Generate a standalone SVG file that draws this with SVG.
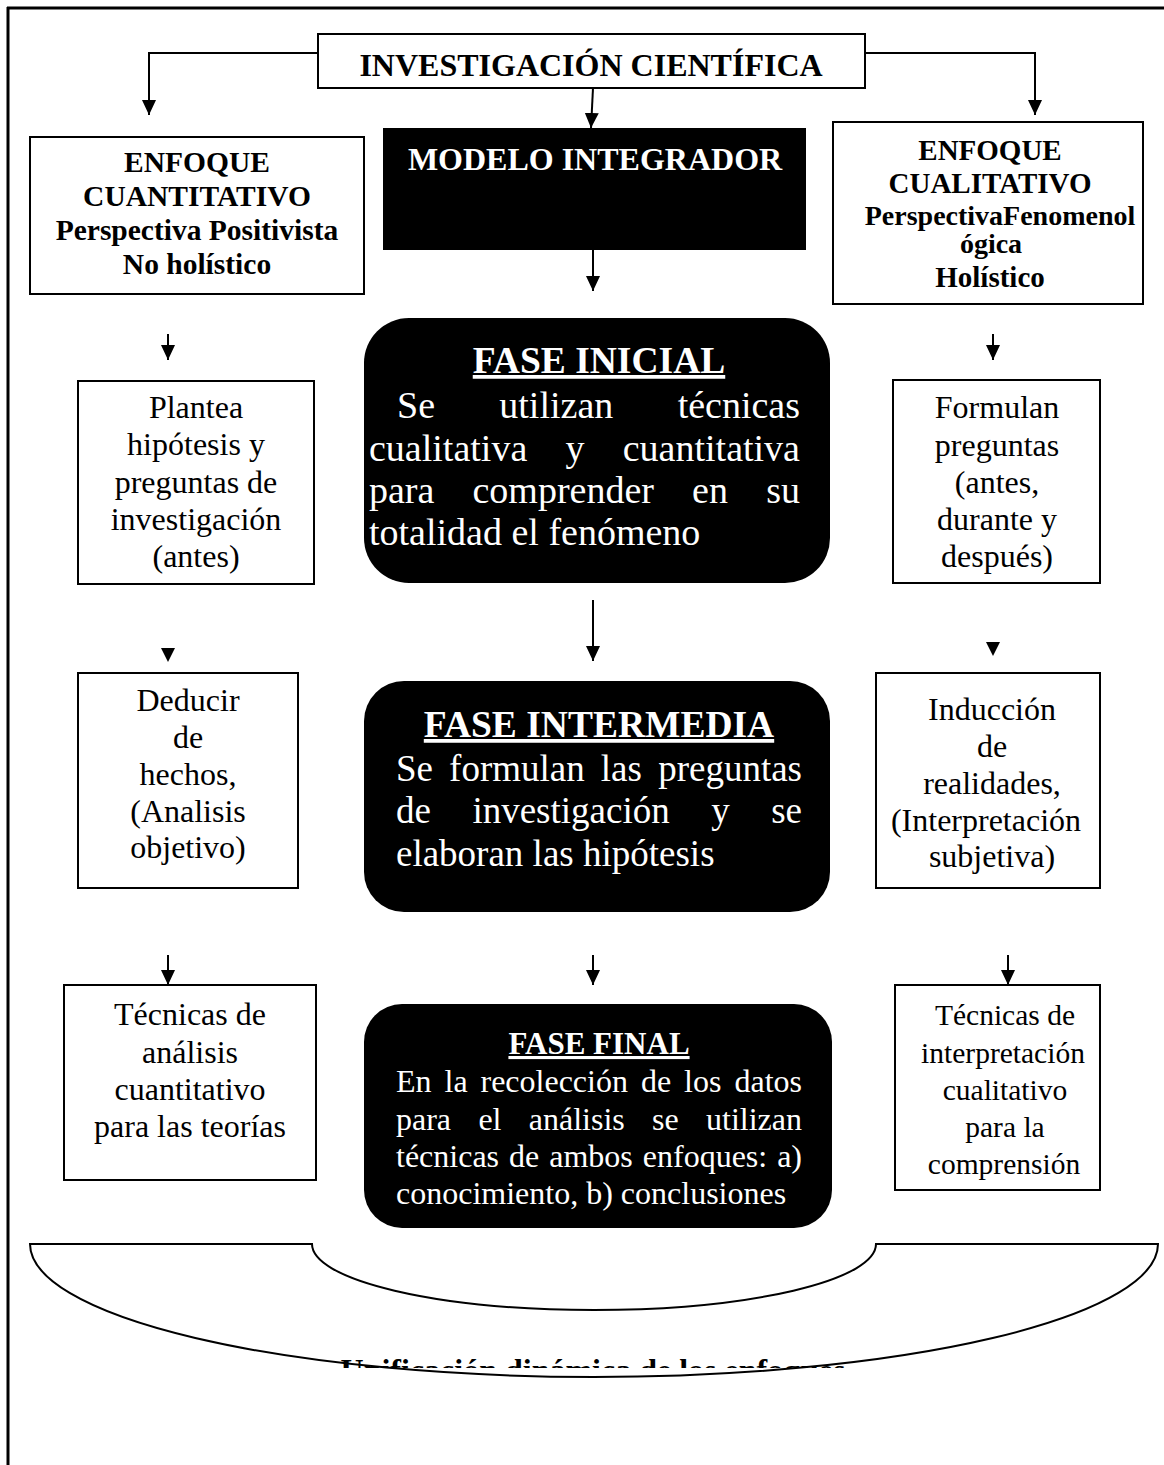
<svg xmlns="http://www.w3.org/2000/svg" width="1164" height="1465" viewBox="0 0 1164 1465">
<style>
.t{font-family:"Liberation Serif","Times New Roman",serif;fill:#000}
.b{font-weight:bold}
.w{fill:#fff}
.box{fill:#fff;stroke:#000;stroke-width:2}
.blk{fill:#000}
.ln{stroke:#000;stroke-width:2;fill:none}
.c{text-anchor:middle}
.u{text-decoration:underline}
</style>
<defs>
<marker id="ah" markerUnits="userSpaceOnUse" markerWidth="16" markerHeight="16" refX="15" refY="7" orient="auto" viewBox="0 0 16 14">
<path d="M0,0 L15,7 L0,14 Z" fill="#000"/>
</marker>
<polygon id="tri" points="-7,0 7,0 0,14" fill="#000"/>
<clipPath id="clipU"><rect x="0" y="0" width="1164" height="1368"/></clipPath>
</defs>

<g id="frame">
<line x1="7" y1="8" x2="1164" y2="8" stroke="#000" stroke-width="3"/>
<line x1="8" y1="7" x2="8" y2="1465" stroke="#000" stroke-width="3"/>
</g>

<g id="connectors">
<polyline class="ln" points="318,53 149,53 149,115" marker-end="url(#ah)"/>
<polyline class="ln" points="865,53 1035,53 1035,115" marker-end="url(#ah)"/>
<line class="ln" x1="593" y1="88" x2="591" y2="128" marker-end="url(#ah)"/>
<line class="ln" x1="593" y1="250" x2="593" y2="291" marker-end="url(#ah)"/>
<line class="ln" x1="168" y1="334" x2="168" y2="360" marker-end="url(#ah)"/>
<line class="ln" x1="993" y1="334" x2="993" y2="360" marker-end="url(#ah)"/>
<use href="#tri" x="168" y="648"/>
<line class="ln" x1="593" y1="600" x2="593" y2="661" marker-end="url(#ah)"/>
<use href="#tri" x="993" y="642"/>
<line class="ln" x1="168" y1="955" x2="168" y2="985" marker-end="url(#ah)"/>
<line class="ln" x1="593" y1="955" x2="593" y2="985" marker-end="url(#ah)"/>
<line class="ln" x1="1008" y1="955" x2="1008" y2="985" marker-end="url(#ah)"/>
</g>

<g id="investigacion">
<rect class="box" x="318" y="34" width="547" height="54"/>
<text class="t b c" x="591" y="76" font-size="32">INVESTIGACIÓN CIENTÍFICA</text>
</g>

<g id="cuantitativo">
<rect class="box" x="30" y="137" width="334" height="157"/>
<text class="t b c" font-size="29.5"><tspan x="197" y="172">ENFOQUE</tspan><tspan x="197" y="206">CUANTITATIVO</tspan><tspan x="197" y="240">Perspectiva Positivista</tspan><tspan x="197" y="274">No holístico</tspan></text>
</g>

<g id="modelo">
<rect class="blk" x="383" y="128" width="423" height="122"/>
<text class="t b c w" x="595" y="170" font-size="32">MODELO INTEGRADOR</text>
</g>

<g id="cualitativo">
<rect class="box" x="833" y="122" width="310" height="182"/>
<text class="t b c" font-size="29"><tspan x="990" y="160">ENFOQUE</tspan><tspan x="990" y="193">CUALITATIVO</tspan><tspan x="1000" y="225" font-size="28">PerspectivaFenomenol</tspan><tspan x="991" y="253" font-size="28">ógica</tspan><tspan x="990" y="287">Holístico</tspan></text>
</g>

<g id="plantea">
<rect class="box" x="78" y="381" width="236" height="203"/>
<text class="t c" font-size="32"><tspan x="196" y="418">Plantea</tspan><tspan x="196" y="455">hipótesis y</tspan><tspan x="196" y="493">preguntas de</tspan><tspan x="196" y="530">investigación</tspan><tspan x="196" y="567">(antes)</tspan></text>
</g>

<g id="fase-inicial">
<rect class="blk" x="364" y="318" width="466" height="265" rx="45"/>
<text class="t b c w u" x="599" y="373" font-size="37.5">FASE INICIAL</text>
<text class="t w" font-size="38">
<tspan x="397" y="418">Se</tspan><tspan x="499.3" y="418">utilizan</tspan><tspan x="800" y="418" text-anchor="end">técnicas</tspan>
</text>
<text class="t w" font-size="38">
<tspan x="369" y="461">cualitativa</tspan><tspan x="565.5" y="461">y</tspan><tspan x="800" y="461" text-anchor="end">cuantitativa</tspan>
</text>
<text class="t w" font-size="38">
<tspan x="369" y="503">para</tspan><tspan x="472.5" y="503">comprender</tspan><tspan x="692.1" y="503">en</tspan><tspan x="800" y="503" text-anchor="end">su</tspan>
</text>
<text class="t w" x="369" y="545" font-size="38">totalidad el fenómeno</text>
</g>

<g id="formulan">
<rect class="box" x="893" y="380" width="207" height="203"/>
<text class="t c" font-size="32"><tspan x="997" y="418">Formulan</tspan><tspan x="997" y="456">preguntas</tspan><tspan x="997" y="493">(antes,</tspan><tspan x="997" y="530">durante y</tspan><tspan x="997" y="567">después)</tspan></text>
</g>

<g id="deducir">
<rect class="box" x="78" y="673" width="220" height="215"/>
<text class="t c" font-size="32"><tspan x="188" y="711">Deducir</tspan><tspan x="188" y="748">de</tspan><tspan x="188" y="785">hechos,</tspan><tspan x="188" y="822">(Analisis</tspan><tspan x="188" y="858">objetivo)</tspan></text>
</g>

<g id="fase-intermedia">
<rect class="blk" x="364" y="681" width="466" height="231" rx="40"/>
<text class="t b c w u" x="599" y="737" font-size="37.5">FASE INTERMEDIA</text>
<text class="t w" font-size="37">
<tspan x="396" y="781">Se</tspan><tspan x="449.1" y="781">formulan</tspan><tspan x="600.8" y="781">las</tspan><tspan x="802" y="781" text-anchor="end">preguntas</tspan>
</text>
<text class="t w" font-size="37">
<tspan x="396" y="823">de</tspan><tspan x="472.4" y="823">investigación</tspan><tspan x="711.2" y="823">y</tspan><tspan x="802" y="823" text-anchor="end">se</tspan>
</text>
<text class="t w" x="396" y="866" font-size="37">elaboran las hipótesis</text>
</g>

<g id="induccion">
<rect class="box" x="876" y="673" width="224" height="215"/>
<text class="t c" font-size="32"><tspan x="992" y="720">Inducción</tspan><tspan x="992" y="757">de</tspan><tspan x="992" y="794">realidades,</tspan><tspan x="986" y="831">(Interpretación</tspan><tspan x="992" y="867">subjetiva)</tspan></text>
</g>

<g id="tecnicas-cuanti">
<rect class="box" x="64" y="985" width="252" height="195"/>
<text class="t c" font-size="32"><tspan x="190" y="1025">Técnicas de</tspan><tspan x="190" y="1063">análisis</tspan><tspan x="190" y="1100">cuantitativo</tspan><tspan x="190" y="1137">para las teorías</tspan></text>
</g>

<g id="fase-final">
<rect class="blk" x="364" y="1004" width="468" height="224" rx="38"/>
<text class="t b c w u" x="599" y="1054" font-size="31">FASE FINAL</text>
<text class="t w" font-size="32">
<tspan x="396" y="1092">En</tspan><tspan x="444.5" y="1092">la</tspan><tspan x="480.5" y="1092">recolección</tspan><tspan x="640.9" y="1092">de</tspan><tspan x="684.1" y="1092">los</tspan><tspan x="802" y="1092" text-anchor="end">datos</tspan>
</text>
<text class="t w" font-size="32">
<tspan x="396" y="1130">para</tspan><tspan x="478.4" y="1130">el</tspan><tspan x="528.8" y="1130">análisis</tspan><tspan x="652.1" y="1130">se</tspan><tspan x="802" y="1130" text-anchor="end">utilizan</tspan>
</text>
<text class="t w" font-size="32">
<tspan x="396" y="1167">técnicas</tspan><tspan x="509" y="1167">de</tspan><tspan x="549.2" y="1167">ambos</tspan><tspan x="642.8" y="1167">enfoques:</tspan><tspan x="802" y="1167" text-anchor="end">a)</tspan>
</text>
<text class="t w" x="396" y="1204" font-size="32">conocimiento, b) conclusiones</text>
</g>

<g id="tecnicas-cuali">
<rect class="box" x="895" y="985" width="205" height="205"/>
<text class="t c" font-size="29.5"><tspan x="1005" y="1025">Técnicas de</tspan><tspan x="1003" y="1063">interpretación</tspan><tspan x="1005" y="1100">cualitativo</tspan><tspan x="1005" y="1137">para la</tspan><tspan x="1004" y="1174">comprensión</tspan></text>
</g>

<g id="unificacion">
<path d="M30,1244 L312,1244 A282,66 0 0 0 876,1244 L1158,1244 A564,133 0 0 1 30,1244 Z" fill="#fff" stroke="#000" stroke-width="2"/>
<text class="t b c" x="593" y="1381" font-size="32" clip-path="url(#clipU)">Unificación dinámica de los enfoques</text>
</g>
</svg>
